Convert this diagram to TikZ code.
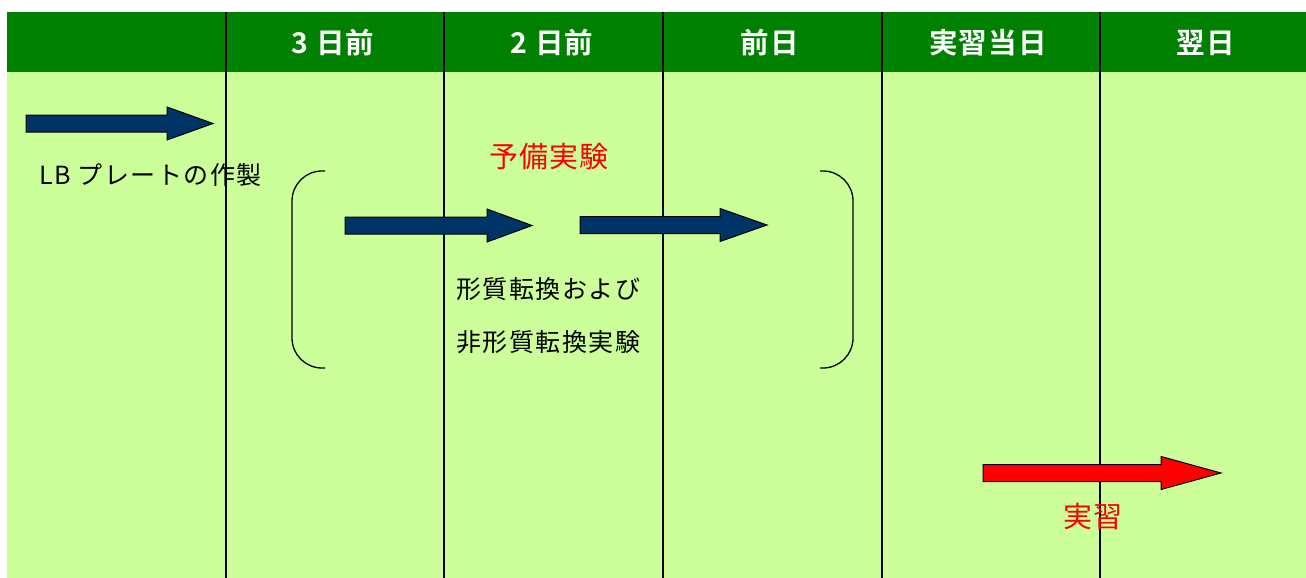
\documentclass[tikz,border=0pt]{standalone}
\usepackage{fontspec}
\newfontfamily\jpfont{Noto Sans CJK JP}[LetterSpace=6]
\newfontfamily\jpred{Noto Sans CJK JP}[LetterSpace=4]
\newfontfamily\jpbold{Noto Sans CJK JP}[BoldFont={* Bold},LetterSpace=4]
\definecolor{headgreen}{HTML}{008000}
\definecolor{bodygreen}{HTML}{CCFF99}
\definecolor{arrowblue}{HTML}{003366}
\definecolor{arrowred}{HTML}{FF0000}
\tikzset{
  header/.style={text=white, font=\jpbold\bfseries\fontsize{28.5}{32}\selectfont, inner sep=0pt},
  bodytext/.style={text=black, font=\jpfont\fontsize{25}{30}\selectfont, inner sep=0pt},
  redtext/.style={text=arrowred, font=\jpred\fontsize{29}{33}\selectfont, inner sep=0pt},
  gridline/.style={draw=black, line width=1.6pt},
  bracket/.style={draw=black, line width=1.3pt, rounded corners=30pt},
  blockarrow/.style={draw=black, line width=1pt, line join=miter}
}
% \barrow{start}{headbase}{tip}{ycenter}{colour}
\newcommand{\barrow}[5]{%
  \path[blockarrow, fill=#5]
    (#1,#4-8.5) -- (#2,#4-8.5) -- (#2,#4-16.5) -- (#3,#4) -- (#2,#4+16.5)
    -- (#2,#4+8.5) -- (#1,#4+8.5) -- cycle;}
\begin{document}
\begin{tikzpicture}[x=1pt,y=-1pt]
\useasboundingbox (0,0) rectangle (1306,578);
% backgrounds
\fill[bodygreen] (7,72) rectangle (1306,578);
\fill[headgreen] (7,12) rectangle (1306,72);
% column lines
\foreach \xx in {226,444,663,882,1100}
  \draw[gridline] (\xx,12) -- (\xx,578);
% headers
\node[header] (h1) at (333,43) {3 日前};
\node[header] (h2) at (552,43) {2 日前};
\node[header] (h3) at (770,43) {前日};
\node[header] (h4) at (988,43) {実習当日};
\node[header] (h5) at (1206,43) {翌日};
% arrows
\barrow{26}{167}{213}{123.5}{arrowblue}
\barrow{345}{487}{532}{225.5}{arrowblue}
\barrow{580}{720}{767}{225}{arrowblue}
\barrow{983}{1161}{1221}{473}{arrowred}
% brackets
\draw[bracket] (325,171) -- (292,171) -- (292,368) -- (325,368);
\draw[bracket] (820,171) -- (853,171) -- (853,368) -- (820,368);
% texts
\node[bodytext, anchor=west] (lb) at (39,175) {LB プレートの作製};
\node[redtext] (yobi) at (549,157) {予備実験};
\node[bodytext, anchor=west] (t1) at (456,289) {形質転換および};
\node[bodytext, anchor=west] (t2) at (456,342) {非形質転換実験};
\node[redtext] (jis) at (1093,517) {実習};
\end{tikzpicture}
\end{document}
